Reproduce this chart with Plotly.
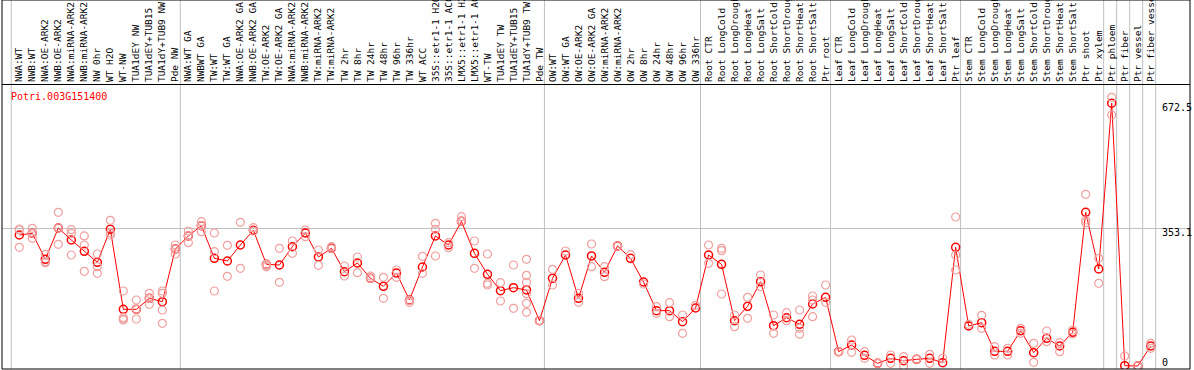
import plotly.graph_objects as go

gene = "Potri.003G151400"

samples = [
    "NWA:WT", "NWB:WT", "NWA:OE-ARK2", "NWB:OE-ARK2", "NWA:miRNA-ARK2", "NWB:miRNA-ARK2",
    "NW 0hr", "WT H2O", "WT-NW", "TUA1dEY NW", "TUA1dEY+TUB15", "TUA1dY+TUB9 NW", "Pde NW",
    "NWA:WT GA", "NWBWT GA", "TW:WT", "TW:WT GA", "NWA:OE-ARK2 GA", "NWB:OE-ARK2 GA",
    "TW:OE-ARK2", "TW:OE-ARK2 GA", "NWA:miRNA-ARK2", "NWB:miRNA-ARK2", "TW:miRNA-ARK2",
    "TW:miRNA-ARK2", "TW 2hr", "TW 8hr", "TW 24hr", "TW 48hr", "TW 96hr", "TW 336hr",
    "WT ACC", "35S::etr1-1 H2O", "35S::etr1-1 ACC", "LMX5::etr1-1 H2O", "LMX5::etr1-1 ACC",
    "WT-TW", "TUA1dEY TW", "TUA1dEY+TUB15", "TUA1dY+TUB9 TW", "Pde TW",
    "OW:WT", "OW:WT GA", "OW:OE-ARK2", "OW:OE-ARK2 GA", "OW:miRNA-ARK2", "OW:miRNA-ARK2",
    "OW 2hr", "OW 8hr", "OW 24hr", "OW 48hr", "OW 96hr", "OW 336hr",
    "Root CTR", "Root LongCold", "Root LongDrought", "Root LongHeat", "Root LongSalt",
    "Root ShortCold", "Root ShortDrought", "Root ShortHeat", "Root ShortSalt", "Ptr root",
    "Leaf CTR", "Leaf LongCold", "Leaf LongDrought", "Leaf LongHeat", "Leaf LongSalt",
    "Leaf ShortCold", "Leaf ShortDrought", "Leaf ShortHeat", "Leaf ShortSalt", "Ptr leaf",
    "Stem CTR", "Stem LongCold", "Stem LongDrought", "Stem LongHeat", "Stem LongSalt",
    "Stem ShortCold", "Stem ShortDrought", "Stem ShortHeat", "Stem ShortSalt",
    "Ptr shoot", "Ptr xylem", "Ptr phloem", "Ptr fiber", "Ptr vessel", "Ptr fiber vessel",
]

means = [
    335.2, 339.5, 272.9, 353.1, 322.4, 293.4, 265.3, 349.7, 145.0, 145.0, 173.2, 164.6, 299.4,
    332.7, 359.1, 275.5, 268.7, 309.6, 347.2, 260.2, 258.4, 305.4, 340.3, 278.9, 301.1, 241.4,
    263.6, 224.3, 203.9, 238.0, 168.9, 253.3, 332.7, 309.6, 370.2, 288.3, 234.6, 192.8, 200.4,
    194.5, 116.0, 224.3, 284.0, 173.2, 281.5, 239.7, 307.1, 275.5, 214.9, 141.6, 141.6, 113.4,
    148.4, 284.0, 260.2, 116.0, 152.7, 215.8, 103.2, 123.7, 106.6, 158.6, 175.7, 36.7, 53.7,
    27.3, 6.8, 19.6, 13.6, 17.1, 19.6, 8.5, 303.7, 102.4, 110.9, 37.5, 37.5, 90.4, 34.1, 70.8,
    51.2, 86.2, 393.2, 248.2, 672.5, 0.9, 0.0, 51.2,
]

replicates = [
    [350.6, 348.0, 303.7], [352.3, 326.7, 339.5], [285.7, 267.0, 264.4], [393.2, 353.1, 311.3],
    [348.9, 339.5, 284.0], [332.7, 309.6, 242.2], [286.6, 254.2, 237.1], [372.7, 340.0, 335.2],
    [191.9, 123.7, 117.7, 120.0], [168.9, 120.3, 145.0], [186.0, 157.8, 173.0],
    [191.9, 186.0, 143.3, 109.2], [309.6, 286.6, 299.0], [345.4, 315.6, 333.0],
    [369.3, 343.7, 359.0], [340.3, 292.6, 191.9], [308.8, 229.4], [367.6, 249.9],
    [354.0, 345.4], [260.2, 254.2, 258.0], [301.1, 214.1], [319.9, 288.3], [348.0, 331.0],
    [296.8, 257.6], [305.4, 300.0], [255.9, 230.3], [278.9, 238.8], [230.3, 224.0],
    [226.9, 173.2], [245.6, 226.9], [162.9, 168.0], [280.6, 237.1], [365.1, 349.7, 281.5],
    [315.6, 302.8], [382.1, 370.2], [319.9, 249.9], [286.6, 211.5, 207.3], [213.2, 166.3],
    [258.4, 147.6], [272.9, 232.0, 214.1, 185.1, 160.4, 137.3], [116.0], [247.4, 207.3],
    [294.3], [186.0, 162.9], [312.2, 254.2], [254.2, 228.6], [307.0], [284.9], [209.8],
    [151.8, 134.8], [162.1, 126.2], [130.5, 83.6], [155.2], [309.6, 262.7],
    [301.1, 295.1, 184.2], [130.5, 100.6], [175.7, 122.0], [232.9, 203.0], [130.5, 83.6],
    [136.5, 116.0], [143.3, 96.4, 81.0], [179.1, 168.9, 126.2], [207.3, 162.9], [36.7],
    [66.5, 35.0], [36.7, 19.6], [6.8], [28.1, 6.8], [23.9, 0.0], [17.0], [29.9, 6.8], [19.6],
    [381.3, 284.0, 245.6], [106.6], [129.7, 96.4], [49.5, 28.1], [45.2, 28.1], [96.4, 83.6],
    [58.0, 9.4], [89.6, 62.3], [59.7, 36.7], [92.1, 81.9], [439.3, 373.6, 366.8],
    [275.5, 211.5], [687.5, 642.3], [25.6], [0.0], [58.0, 45.2],
]

y_tick_values = [0, 353.1, 672.5]
y_tick_labels = ["0", "353.1", "672.5"]
# group separators are drawn just before these sample positions
separators_before = [0, 13, 41, 53, 63, 73, 84, 85, 86, 87, 88]

# ---- styling / geometry ----
W, H = 1194, 370
M_L, M_R, M_T, M_B = 2, 4, 85, 1
X_RANGE = [-1.33, 90.02]
Y_RANGE = [-7.68, 719.0]
plot_h = H - M_T - M_B
px_per_unit = plot_h / (Y_RANGE[1] - Y_RANGE[0])
label_nudge_px = [-4, 4, 4]
label_positions = [v - n / px_per_unit for v, n in zip(y_tick_values, label_nudge_px)]
MONO = "DejaVu Sans Mono"
top_paper = 1 + M_T / plot_h

x_idx = list(range(len(samples)))
rep_x, rep_y = [], []
for i, reps in enumerate(replicates):
    for r in reps:
        rep_x.append(i)
        rep_y.append(r)

fig = go.Figure()
fig.add_trace(go.Scatter(
    x=rep_x, y=rep_y, mode="markers", yaxis="y2",
    marker=dict(symbol="circle-open", size=8, color="#f0a0a0", line=dict(width=1.2)),
    hoverinfo="skip", showlegend=False,
))
fig.add_trace(go.Scatter(
    x=x_idx, y=means, mode="lines+markers",
    line=dict(color="red", width=1),
    marker=dict(symbol="circle-open", size=8, color="red", line=dict(width=1.5)),
    showlegend=False,
))

shapes = []
for s in separators_before:
    shapes.append(dict(type="line", xref="x", yref="paper", x0=s - 0.62, x1=s - 0.62,
                       y0=0, y1=top_paper, line=dict(color="#c0c0c0", width=1), layer="below"))
shapes.append(dict(type="rect", xref="paper", yref="paper", x0=0, x1=1, y0=0, y1=top_paper,
                   line=dict(color="black", width=1), fillcolor="rgba(0,0,0,0)", layer="above"))

fig.update_layout(
    width=W, height=H,
    margin=dict(l=M_L, r=M_R, t=M_T, b=M_B, pad=0),
    paper_bgcolor="white", plot_bgcolor="white",
    showlegend=False,
    shapes=shapes,
    xaxis=dict(
        range=X_RANGE, side="top", tickmode="array", tickvals=x_idx, ticktext=samples,
        tickangle=-90, tickfont=dict(family=MONO, size=9.5, color="black"),
        ticks="", showgrid=False, zeroline=False, showline=True, linecolor="black",
        linewidth=1, automargin=False, fixedrange=True,
    ),
    yaxis=dict(
        range=Y_RANGE, tickmode="array", tickvals=[y_tick_values[1]], showticklabels=False,
        showgrid=True, gridcolor="#c0c0c0", gridwidth=1, zeroline=False, showline=False,
        ticks="", automargin=False,
    ),
    yaxis2=dict(
        range=Y_RANGE, overlaying="y", side="right", anchor="free",
        position=(1161 - M_L) / (W - M_L - M_R),
        tickmode="array", tickvals=label_positions, ticktext=y_tick_labels,
        tickfont=dict(family=MONO, size=10, color="black"),
        showgrid=False, zeroline=False, showline=False, ticks="", automargin=False,
    ),
    annotations=[dict(
        text=gene, xref="paper", yref="paper", x=(9 - M_L) / (W - M_L - M_R),
        y=1 - (97 - M_T) / plot_h, xanchor="left", yanchor="middle", showarrow=False,
        font=dict(family=MONO, size=10, color="red"),
    )],
)

fig.write_html("out.html", config={"displayModeBar": False},
               post_script="document.body.style.margin='0';")
